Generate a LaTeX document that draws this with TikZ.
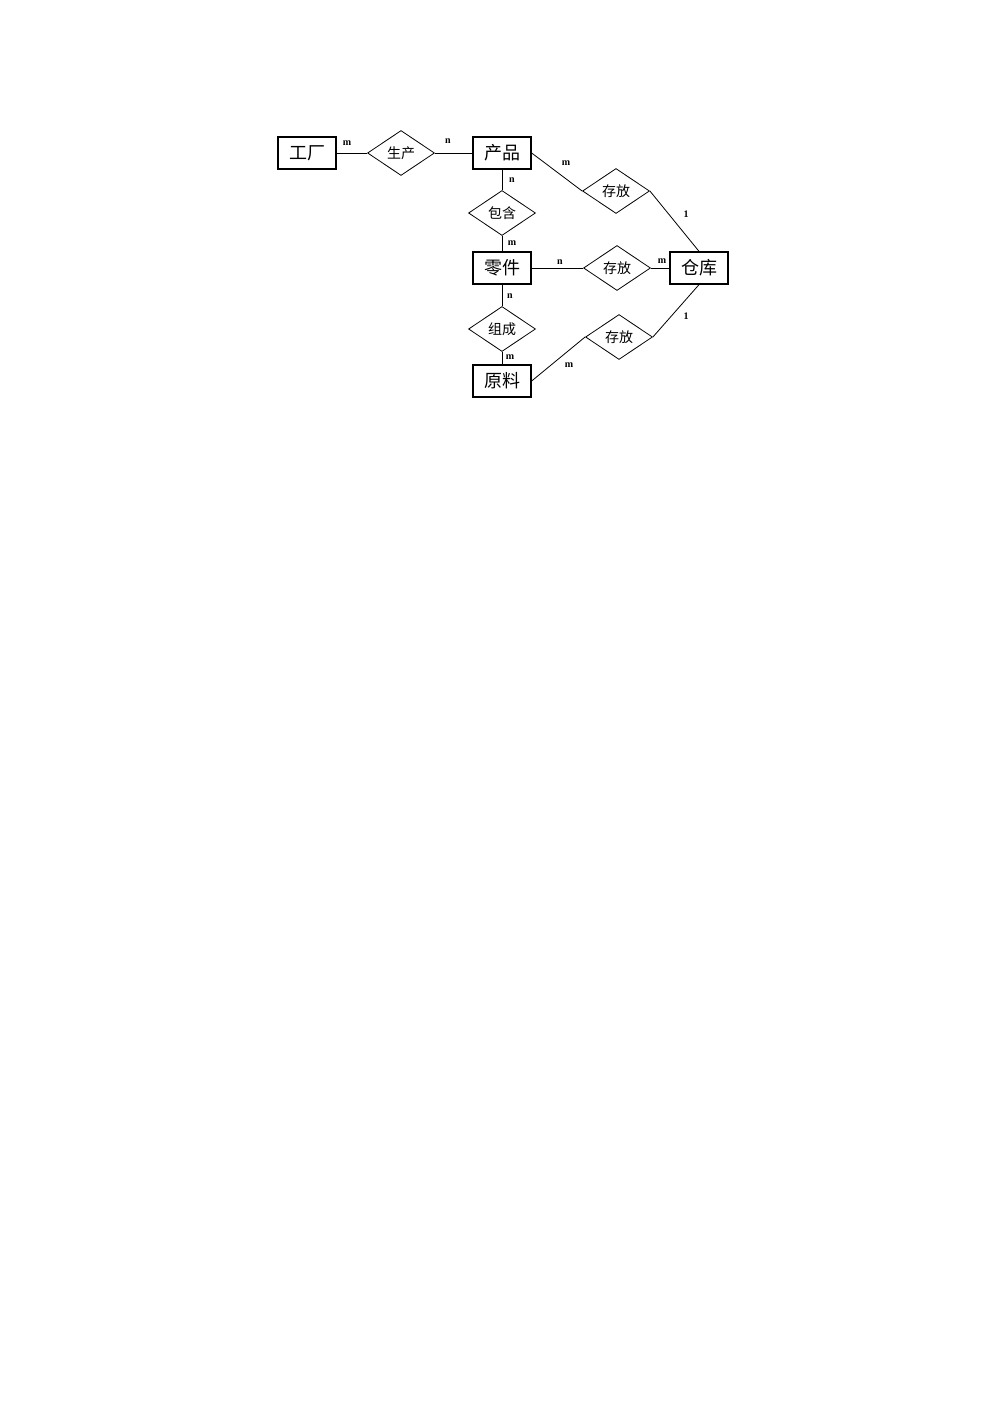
\documentclass[tikz,border=0pt]{standalone}
\usepackage{fontspec}
\setmainfont{Liberation Serif}
\newfontfamily\cjk{Noto Sans CJK SC}
\usetikzlibrary{shapes.geometric}
\begin{document}
\begin{tikzpicture}[x=1pt,y=-1pt,
  entity/.style={draw,line width=1.3pt,rectangle,minimum width=58pt,minimum height=32pt,inner sep=0pt,font=\cjk\fontsize{18}{18}\selectfont},
  rel/.style={draw,line width=0.8pt,diamond,minimum width=67pt,minimum height=45pt,inner sep=0pt,font=\cjk\fontsize{14}{14}\selectfont},
  card/.style={inner sep=0pt,font=\bfseries\fontsize{10}{10}\selectfont},
  conn/.style={line width=0.8pt}]
\useasboundingbox (0,0) rectangle (993,1404);
\fill[white] (0,0) rectangle (993,1404);
% entities
\node[entity] (gc) at (307,153) {工厂};
\node[entity] (cp) at (502,153) {产品};
\node[entity] (lj) at (502,268) {零件};
\node[entity] (yl) at (502,381) {原料};
\node[entity] (ck) at (699,268) {仓库};
% relationships
\node[rel] (sc) at (401,153) {生产};
\node[rel] (cf1) at (616,191) {存放};
\node[rel] (bh) at (502,213) {包含};
\node[rel] (cf2) at (617,268) {存放};
\node[rel] (zc) at (502,329) {组成};
\node[rel] (cf3) at (619,337) {存放};
% connectors
\draw[conn] (gc.east) -- (sc.west);
\draw[conn] (sc.east) -- (cp.west);
\draw[conn] (cp.east) -- (cf1.west);
\draw[conn] (cf1.east) -- (ck.north);
\draw[conn] (cp.south) -- (bh.north);
\draw[conn] (bh.south) -- (lj.north);
\draw[conn] (lj.east) -- (cf2.west);
\draw[conn] (cf2.east) -- (ck.west);
\draw[conn] (lj.south) -- (zc.north);
\draw[conn] (zc.south) -- (yl.north);
\draw[conn] (yl.east) -- (cf3.west);
\draw[conn] (cf3.east) -- (ck.south);
% cardinalities
\node[card] (l1) at (347,143) {m};
\node[card] (l2) at (448,141) {n};
\node[card] (l3) at (566,163) {m};
\node[card] (l4) at (686,214) {1};
\node[card] (l5) at (512,180) {n};
\node[card] (l6) at (512,243) {m};
\node[card] (l7) at (560,262) {n};
\node[card] (l8) at (662,261) {m};
\node[card] (l9) at (510,296) {n};
\node[card] (l10) at (510,357) {m};
\node[card] (l11) at (569,365) {m};
\node[card] (l12) at (686,316) {1};
\end{tikzpicture}
\end{document}
